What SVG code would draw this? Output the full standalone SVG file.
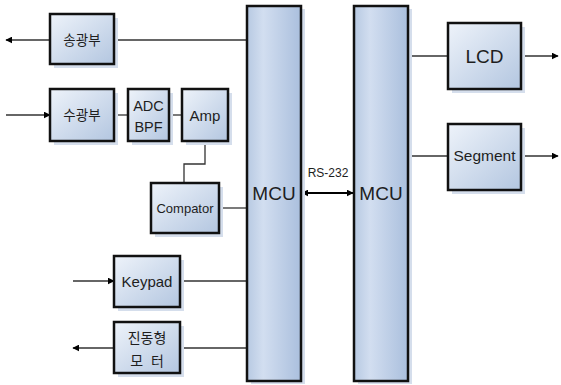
<svg xmlns="http://www.w3.org/2000/svg" width="561" height="385" viewBox="0 0 561 385">
<defs>
<linearGradient id="g" x1="0" y1="0" x2="1" y2="1">
<stop offset="0" stop-color="#eef3fa"/>
<stop offset="1" stop-color="#b3c6e0"/>
</linearGradient>
<linearGradient id="gv" x1="0" y1="0" x2="1" y2="0">
<stop offset="0" stop-color="#b7c9e2"/>
<stop offset="0.3" stop-color="#d2def0"/>
<stop offset="1" stop-color="#aabfdd"/>
</linearGradient>
<marker id="ah" viewBox="0 0 10 10" refX="9" refY="5" markerWidth="7" markerHeight="7" orient="auto-start-reverse" markerUnits="userSpaceOnUse">
<path d="M0,0 L10,5 L0,10 z" fill="#000"/>
</marker>
</defs>
<style>
.box{fill:url(#g);stroke:#111;stroke-width:2.5}
.mcu{fill:url(#gv);stroke:#111;stroke-width:2.5}
.sh{fill:#d5deec}
.t{font-family:"Liberation Sans","Noto Sans CJK KR",sans-serif;fill:#1e1e1e;text-anchor:middle}
.w{stroke:#333;stroke-width:1.3;fill:none}
</style>
<rect width="561" height="385" fill="#fff"/>
<g id="connectors">
<line class="w" x1="114" y1="40" x2="247" y2="40"/>
<line class="w" x1="50" y1="40" x2="6" y2="40" marker-end="url(#ah)"/>
<line class="w" x1="6" y1="115" x2="50" y2="115" marker-end="url(#ah)"/>
<line class="w" x1="114" y1="115" x2="128" y2="115"/>
<line class="w" x1="169" y1="115" x2="182" y2="115"/>
<polyline class="w" points="205,141 205,164 184,164 184,183"/>
<line class="w" x1="219" y1="208" x2="247" y2="208"/>
<line class="w" x1="73" y1="281" x2="114" y2="281" marker-end="url(#ah)"/>
<line class="w" x1="180" y1="281" x2="247" y2="281"/>
<line class="w" x1="114" y1="348" x2="73" y2="348" marker-end="url(#ah)"/>
<line class="w" x1="180" y1="348" x2="247" y2="348"/>
<line stroke="#000" stroke-width="2" x1="302" y1="193" x2="353" y2="193" marker-start="url(#ah)" marker-end="url(#ah)"/>
<line class="w" x1="408" y1="56" x2="448" y2="56"/>
<line class="w" x1="521" y1="56" x2="558" y2="56" marker-end="url(#ah)"/>
<line class="w" x1="408" y1="156" x2="448" y2="156"/>
<line class="w" x1="521" y1="156" x2="558" y2="156" marker-end="url(#ah)"/>
<text class="t" x="328" y="177" font-size="12">RS-232</text>
</g>
<g id="songgwangbu"><rect class="sh" x="54" y="18" width="64" height="50"/><rect class="box" x="50" y="14" width="64" height="50"/><text class="t" x="82" y="45" font-size="13.5">송광부</text></g>
<g id="sugwangbu"><rect class="sh" x="54" y="93" width="64" height="52"/><rect class="box" x="50" y="89" width="64" height="52"/><text class="t" x="82" y="120" font-size="13.5">수광부</text></g>
<g id="adcbpf"><rect class="sh" x="132" y="93" width="41" height="52"/><rect class="box" x="128" y="89" width="41" height="52"/><text class="t" x="148.5" y="111" font-size="14.5">ADC</text><text class="t" x="148.5" y="132" font-size="14.5">BPF</text></g>
<g id="amp"><rect class="sh" x="186" y="93" width="46" height="52"/><rect class="box" x="182" y="89" width="46" height="52"/><text class="t" x="205" y="121" font-size="15">Amp</text></g>
<g id="compator"><rect class="sh" x="155" y="187" width="68" height="50"/><rect class="box" x="151" y="183" width="68" height="50"/><text class="t" x="185" y="213" font-size="13">Compator</text></g>
<g id="keypad"><rect class="sh" x="118" y="260" width="66" height="51"/><rect class="box" x="114" y="256" width="66" height="51"/><text class="t" x="147" y="287" font-size="15">Keypad</text></g>
<g id="motor"><rect class="sh" x="118" y="326" width="66" height="51"/><rect class="box" x="114" y="322" width="66" height="51"/><text class="t" x="147" y="343" font-size="14">진동형</text><text class="t" x="147" y="366" font-size="14" xml:space="preserve">모  터</text></g>
<g id="mcu1"><rect class="sh" x="251" y="9" width="54" height="375"/><rect class="mcu" x="247" y="6" width="54" height="375"/><text class="t" x="274" y="200" font-size="19">MCU</text></g>
<g id="mcu2"><rect class="sh" x="358" y="9" width="54" height="375"/><rect class="mcu" x="354" y="6" width="54" height="375"/><text class="t" x="381" y="200" font-size="19">MCU</text></g>
<g id="lcd"><rect class="sh" x="452" y="27" width="73" height="66"/><rect class="box" x="448" y="23" width="73" height="66"/><text class="t" x="484.5" y="63" font-size="19">LCD</text></g>
<g id="segment"><rect class="sh" x="452" y="128" width="73" height="66"/><rect class="box" x="448" y="124" width="73" height="66"/><text class="t" x="484.5" y="161" font-size="15.5">Segment</text></g>
</svg>
